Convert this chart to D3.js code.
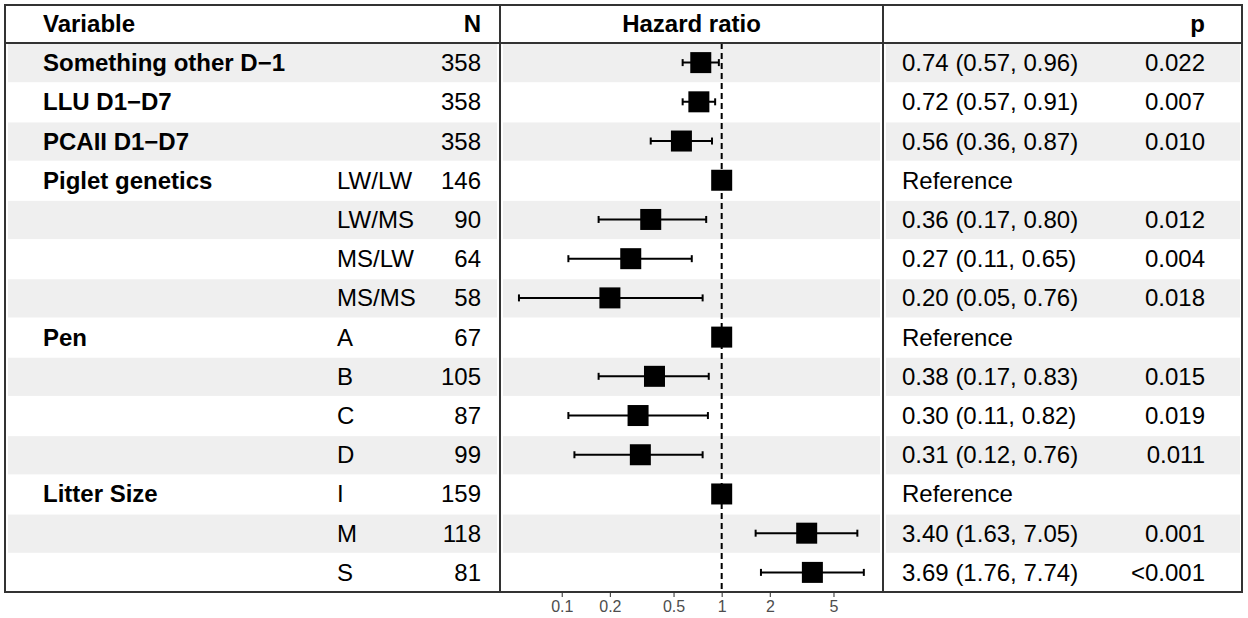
<!DOCTYPE html>
<html>
<head>
<meta charset="utf-8">
<script src="https://cdn.jsdelivr.net/npm/d3@7"></script>
<style>
  body { margin: 0; background: #fff; }
  text { font-family: "Liberation Sans", Arial, sans-serif; }
</style>
</head>
<body>
<script>
// table rows, top to bottom
var variables = ["Something other D\u22121", "LLU D1\u2212D7", "PCAII D1\u2212D7", "Piglet genetics", "", "", "", "Pen", "", "", "", "Litter Size", "", ""];
var levels = ["", "", "", "LW/LW", "LW/MS", "MS/LW", "MS/MS", "A", "B", "C", "D", "I", "M", "S"];
var counts = [358, 358, 358, 146, 90, 64, 58, 67, 105, 87, 99, 159, 118, 81];
var hr = [0.74, 0.72, 0.56, 1, 0.36, 0.27, 0.20, 1, 0.38, 0.30, 0.31, 1, 3.40, 3.69];
var lower = [0.57, 0.57, 0.36, null, 0.17, 0.11, 0.054, null, 0.17, 0.11, 0.12, null, 1.63, 1.76];
var upper = [0.96, 0.91, 0.87, null, 0.80, 0.65, 0.76, null, 0.83, 0.82, 0.76, null, 7.05, 7.74];
var estLabels = ["0.74 (0.57, 0.96)", "0.72 (0.57, 0.91)", "0.56 (0.36, 0.87)", "Reference",
  "0.36 (0.17, 0.80)", "0.27 (0.11, 0.65)", "0.20 (0.05, 0.76)", "Reference",
  "0.38 (0.17, 0.83)", "0.30 (0.11, 0.82)", "0.31 (0.12, 0.76)", "Reference",
  "3.40 (1.63, 7.05)", "3.69 (1.76, 7.74)"];
var pLabels = ["0.022", "0.007", "0.010", "", "0.012", "0.004", "0.018", "", "0.015", "0.019", "0.011", "", "0.001", "<0.001"];
var tickVals = [0.1, 0.2, 0.5, 1, 2, 5];

var W = 1248, H = 618;
var bLeft = 5, bRight = 1242, bTop = 5, headY = 43, bBottom = 592;
var div1 = 500, div2 = 883;
var fs = 24;

var svg = d3.select('body').append('svg')
  .attr('width', W)
  .attr('height', H);

var rowIdx = d3.range(counts.length);
var y = d3.scaleBand().domain(rowIdx).range([headY, bBottom]);
var x = d3.scaleLog().domain([0.0411, 10.2]).range([div1, div2]);

// row shading, three panels
var panels = [[bLeft + 3, div1 - 3], [div1 + 3, div2 - 3], [div2 + 3, bRight - 2]];
panels.forEach(function(p) {
  svg.selectAll(null)
    .data(rowIdx.filter(function(i) { return i % 2 == 0; }))
    .enter().append('rect')
    .attr('x', p[0])
    .attr('width', p[1] - p[0])
    .attr('y', function(i) { return y(i) + 1; })
    .attr('height', y.bandwidth() - 1)
    .attr('fill', '#efefef');
});

function baseline(i) { return y(i) + y.bandwidth() / 2 + 8.5; }

// headers
var head = svg.append('g').attr('font-size', fs).attr('font-weight', 'bold');
head.append('text').attr('x', 43).attr('y', 32).text('Variable');
head.append('text').attr('x', 481).attr('y', 32).attr('text-anchor', 'end').text('N');
head.append('text').attr('x', (div1 + div2) / 2).attr('y', 32).attr('text-anchor', 'middle').text('Hazard ratio');
head.append('text').attr('x', 1205).attr('y', 32).attr('text-anchor', 'end').text('p');

// left columns
svg.selectAll('.var').data(rowIdx).enter().append('text')
  .attr('class', 'var')
  .attr('x', 43).attr('y', baseline)
  .attr('font-size', fs).attr('font-weight', 'bold')
  .text(function(i) { return variables[i]; });

svg.selectAll('.lev').data(rowIdx).enter().append('text')
  .attr('class', 'lev')
  .attr('x', 337).attr('y', baseline)
  .attr('font-size', fs)
  .text(function(i) { return levels[i]; });

svg.selectAll('.n').data(rowIdx).enter().append('text')
  .attr('class', 'n')
  .attr('x', 481).attr('y', baseline)
  .attr('font-size', fs).attr('text-anchor', 'end')
  .text(function(i) { return counts[i]; });

// right columns
svg.selectAll('.est').data(rowIdx).enter().append('text')
  .attr('class', 'est')
  .attr('x', 902).attr('y', baseline)
  .attr('font-size', fs)
  .text(function(i) { return estLabels[i]; });

svg.selectAll('.pv').data(rowIdx).enter().append('text')
  .attr('class', 'pv')
  .attr('x', 1205).attr('y', baseline)
  .attr('font-size', fs).attr('text-anchor', 'end')
  .text(function(i) { return pLabels[i]; });

// reference line at 1
svg.append('line')
  .attr('x1', x(1)).attr('x2', x(1))
  .attr('y1', headY).attr('y2', bBottom)
  .attr('stroke', '#000').attr('stroke-width', 2)
  .attr('stroke-dasharray', '6,4');

// CIs
var ci = rowIdx.filter(function(i) { return lower[i] != null; });
var cy = function(i) { return y(i) + y.bandwidth() / 2; };
svg.selectAll('.ci').data(ci).enter().append('line')
  .attr('x1', function(i) { return x(lower[i]); })
  .attr('x2', function(i) { return x(upper[i]); })
  .attr('y1', cy).attr('y2', cy)
  .attr('stroke', '#000').attr('stroke-width', 2);
[lower, upper].forEach(function(arr) {
  svg.selectAll(null).data(ci).enter().append('line')
    .attr('x1', function(i) { return x(arr[i]); })
    .attr('x2', function(i) { return x(arr[i]); })
    .attr('y1', function(i) { return cy(i) - 3.5; })
    .attr('y2', function(i) { return cy(i) + 3.5; })
    .attr('stroke', '#000').attr('stroke-width', 2);
});

// points
var sq = 21;
svg.selectAll('.pt').data(rowIdx).enter().append('rect')
  .attr('x', function(i) { return x(hr[i]) - sq / 2; })
  .attr('y', function(i) { return cy(i) - sq / 2; })
  .attr('width', sq).attr('height', sq)
  .attr('fill', '#000');

// axis
var axis = svg.append('g')
  .attr('transform', 'translate(0,' + bBottom + ')')
  .call(d3.axisBottom(x).tickValues(tickVals).tickFormat(d3.format('~g')).tickSize(5).tickPadding(4));
axis.select('.domain').remove();
axis.selectAll('line').attr('stroke', '#4d4d4d').attr('stroke-width', 1.2);
axis.selectAll('text').attr('font-size', 16).attr('fill', '#4d4d4d');

// borders
var g = svg.append('g').attr('stroke', '#333').attr('stroke-width', 2).attr('fill', 'none');
g.append('rect').attr('x', bLeft).attr('y', bTop).attr('width', bRight - bLeft).attr('height', bBottom - bTop);
g.append('line').attr('x1', bLeft).attr('x2', bRight).attr('y1', headY).attr('y2', headY);
g.append('line').attr('x1', div1).attr('x2', div1).attr('y1', bTop).attr('y2', bBottom);
g.append('line').attr('x1', div2).attr('x2', div2).attr('y1', bTop).attr('y2', bBottom);
</script>
</body>
</html>
